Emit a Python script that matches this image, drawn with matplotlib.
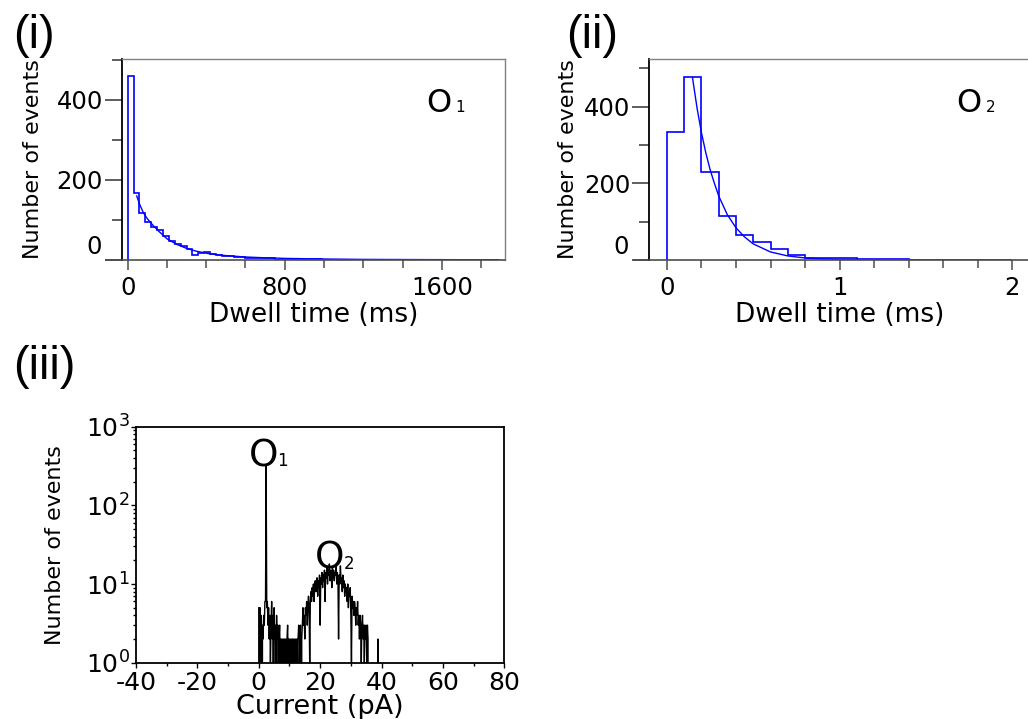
import numpy as np
import matplotlib
matplotlib.use("Agg")
import matplotlib.pyplot as plt
from matplotlib.ticker import MultipleLocator, FixedLocator, LogLocator, NullFormatter

plt.rcParams['font.family'] = ['DejaVu Sans']
plt.rcParams['axes.unicode_minus'] = False
plt.rcParams['mathtext.fontset'] = 'dejavusans'

# ---------------- data ----------------
# (i) O1 dwell-time histogram (30 ms bins)
dwell1_bin_ms = 30
dwell1_counts = [460, 167, 118, 95, 82, 74, 60, 48, 40, 34, 28, 12, 18, 20, 14, 12,
                 10, 9, 8, 7, 6, 6, 5, 5, 4,
                 1, 1, 0, 1, 1, 0, 2, 2, 0, 0, 1, 0, 0, 1, 0, 0, 1, 0, 1, 0,
                 0, 1, 0, 0, 1, 0, 0, 1, 0, 0, 0, 1, 0, 0, 1, 0, 1, 0]
fit1_x = [46, 60, 80, 100, 130, 160, 200, 250, 300, 350, 400, 450, 500, 600,
          700, 800, 1000, 1200, 1500, 1890]
fit1_y = [160, 140, 118, 103, 86, 71, 53, 39, 29, 22, 17, 13.5, 11, 7.5,
          5.5, 4, 2.5, 1.5, 1, 0.5]

# (ii) O2 dwell-time histogram (0.1 ms bins)
dwell2_bin_ms = 0.1
dwell2_counts = [333, 476, 229, 115, 64, 48, 28, 13, 6, 5, 4, 3, 2, 2, 1, 0, 0, 0, 0, 0]
fit2_x = [0.148, 0.175, 0.2, 0.225, 0.25, 0.275, 0.3, 0.35, 0.4, 0.45, 0.5,
          0.6, 0.7, 0.8, 0.9, 1.0, 1.2, 1.45]
fit2_y = [476, 395, 332, 280, 236, 200, 167, 118, 84, 60, 42,
          21, 10.6, 5.3, 2.7, 1.4, 0.4, 0.1]

# (iii) current amplitude histogram (0.2 pA bins, starting at 0 pA)
current_bin_pA = 0.2
current_counts = [
    5, 0, 5, 2, 4, 0, 3, 2, 4, 3,
    6, 6, 330, 5, 6, 3, 5, 2, 4, 1,
    3, 6, 2, 4, 0, 5, 2, 3, 1, 4,
    2, 3, 0, 2, 3, 1, 2, 0, 2, 1,
    2, 0, 2, 1, 2, 0, 2, 3, 1, 2,
    0, 2, 1, 2, 0, 2, 1, 2, 0, 2,
    1, 2, 0, 2, 2, 3, 1, 2, 3, 0,
    2, 3, 5, 3, 4, 2, 5, 4, 6, 3,
    5, 7, 5, 1, 6, 8, 6, 9, 7, 10,
    6, 9, 11, 8, 10, 12, 7, 11, 9, 13,
    3, 12, 10, 14, 9, 13, 11, 15, 6, 14,
    12, 17, 10, 15, 13, 18, 11, 15, 14, 9,
    16, 12, 15, 11, 14, 13, 18, 10, 14, 12,
    2, 13, 10, 17, 11, 12, 8, 13, 9, 11,
    7, 10, 8, 9, 6, 10, 5, 8, 7, 9,
    4, 1, 7, 5, 6, 4, 6, 5, 3, 5,
    4, 6, 3, 4, 2, 4, 3, 1, 3, 4,
    2, 3, 1, 3, 2, 3, 1, 3, 2, 0,
    0, 0, 0, 0, 0, 0, 0, 0, 0, 0,
    0, 0, 0, 0, 2, 0, 0, 0, 0, 0,
]

# ---------------- figure ----------------
W, H = 1028, 719
fig = plt.figure(figsize=(W / 100, H / 100), dpi=100)

def frac(l, t, r, b):
    return [l / W, 1 - b / H, (r - l) / W, (b - t) / H]

BLUE = '#0000ff'
TICKFS = 17.5
XLABFS = 19
YLABFS = 16

def style_dwell(ax, ext):
    for s in ('top', 'right'):
        ax.spines[s].set_color('0.5')
        ax.spines[s].set_linewidth(1.0)
    ax.spines['left'].set_color('black')
    ax.spines['left'].set_linewidth(1.3)
    ax.spines['bottom'].set_color('0.3')
    ax.spines['bottom'].set_linewidth(1.2)
    ax.plot([ext, 0], [0, 0], transform=ax.transAxes, color='0.3', lw=1.2,
            clip_on=False, solid_capstyle='butt')
    ax.tick_params(axis='y', which='major', direction='out', length=12.2, width=1.1,
                   color='0.2', labelsize=TICKFS, pad=1.5)
    ax.tick_params(axis='y', which='minor', direction='out', length=7.5, width=1.1,
                   color='0.2')
    ax.tick_params(axis='x', which='major', direction='out', length=7.2, width=1.1,
                   color='0.3', labelsize=TICKFS, pad=4)
    ax.tick_params(axis='x', which='minor', direction='out', length=5.8, width=1.1,
                   color='0.3')
    ax.yaxis.set_major_locator(FixedLocator([0, 200, 400]))
    ax.yaxis.set_minor_locator(FixedLocator([100, 300, 500]))
    ax.set_yticklabels(['', '200', '400'])
    ax.annotate('0', xy=(0, 0), xycoords=('axes fraction', 'data'),
                xytext=(-12.2 - 1.5 - 1, 9.5), textcoords='offset points',
                ha='right', va='center', fontsize=TICKFS)

# ----- (i) -----
ax1 = fig.add_axes(frac(122, 59, 505, 260))
edges1 = np.arange(len(dwell1_counts) + 1) * dwell1_bin_ms
ax1.stairs(dwell1_counts, edges1, color=BLUE, lw=1.2, baseline=0)
ax1.plot(fit1_x, fit1_y, color=BLUE, lw=1.0)
ax1.set_xlim(-29, 1922)
ax1.xaxis.set_major_locator(MultipleLocator(800))
ax1.xaxis.set_minor_locator(MultipleLocator(200))
style_dwell(ax1, -0.0444)
ax1.set_ylim(0, 502)
ax1.set_xlabel('Dwell time (ms)', fontsize=XLABFS)
ax1.xaxis.set_label_coords(0.5, -0.2736)
ax1.xaxis.label.set_verticalalignment('center')
ax1.set_ylabel('Number of events', fontsize=YLABFS)
ax1.yaxis.set_label_coords(-0.2324, 0.5)
ax1.yaxis.label.set_verticalalignment('center')
ax1.text(0.7956, 0.738, 'O', transform=ax1.transAxes, fontsize=23, ha='left', va='baseline')
ax1.text(0.8700, 0.738, '1', transform=ax1.transAxes, fontsize=11, ha='left', va='baseline')

# ----- (ii) -----
ax2 = fig.add_axes(frac(649.3, 59, 1030, 260))
edges2 = np.arange(len(dwell2_counts) + 1) * dwell2_bin_ms
ax2.stairs(dwell2_counts, edges2, color=BLUE, lw=1.2, baseline=0)
ax2.plot(fit2_x, fit2_y, color=BLUE, lw=1.0)
ax2.set_xlim(-0.102, 2.103)
ax2.xaxis.set_major_locator(MultipleLocator(1))
ax2.xaxis.set_minor_locator(MultipleLocator(0.2))
style_dwell(ax2, -0.042)
ax2.set_ylim(0, 524)
ax2.set_xlabel('Dwell time (ms)', fontsize=XLABFS)
ax2.xaxis.set_label_coords(0.5, -0.2736)
ax2.xaxis.label.set_verticalalignment('center')
ax2.set_ylabel('Number of events', fontsize=YLABFS)
ax2.yaxis.set_label_coords(-0.2136, 0.5)
ax2.yaxis.label.set_verticalalignment('center')
ax2.text(0.8074, 0.738, 'O', transform=ax2.transAxes, fontsize=23, ha='left', va='baseline')
ax2.text(0.8830, 0.738, '2', transform=ax2.transAxes, fontsize=11, ha='left', va='baseline')

# ----- (iii) -----
ax3 = fig.add_axes(frac(136, 426.7, 504.3, 662.7))
cur_x = np.arange(len(current_counts)) * current_bin_pA
ax3.plot(cur_x, current_counts, color='black', lw=1.0)
ax3.set_yscale('log', nonpositive='clip')
ax3.set_xlim(-40, 80)
ax3.set_ylim(1, 1000)
ax3.xaxis.set_major_locator(MultipleLocator(20))
ax3.xaxis.set_minor_locator(MultipleLocator(10))
ax3.yaxis.set_major_locator(LogLocator(base=10, numticks=10))
ax3.yaxis.set_minor_locator(LogLocator(base=10, subs=np.arange(2, 10), numticks=10))
ax3.yaxis.set_minor_formatter(NullFormatter())
for s in ax3.spines.values():
    s.set_color('black')
    s.set_linewidth(1.3)
ax3.tick_params(axis='y', which='major', direction='out', length=3.6, width=1.0,
                labelsize=18, pad=1)
ax3.tick_params(axis='x', which='major', direction='out', length=3.6, width=1.0,
                labelsize=18, pad=2.5)
ax3.tick_params(axis='both', which='minor', direction='out', length=2.2, width=1.0)
ax3.set_xlabel('Current (pA)', fontsize=19.5)
ax3.xaxis.set_label_coords(0.5, -0.1877)
ax3.xaxis.label.set_verticalalignment('center')
ax3.set_ylabel('Number of events', fontsize=YLABFS)
ax3.yaxis.set_label_coords(-0.2200, 0.5)
ax3.yaxis.label.set_verticalalignment('center')
ax3.text(0.3076, 0.8314, 'O', transform=ax3.transAxes, fontsize=27, ha='left', va='baseline')
ax3.text(0.384, 0.8335, '1', transform=ax3.transAxes, fontsize=12, ha='left', va='baseline')
ax3.text(0.486, 0.401, 'O', transform=ax3.transAxes, fontsize=27, ha='left', va='baseline')
ax3.text(0.5629, 0.397, '2', transform=ax3.transAxes, fontsize=12, ha='left', va='baseline')

# ----- panel labels -----
PFONT = ['Liberation Sans', 'DejaVu Sans']
fig.text(13 / W, 1 - 35.5 / H, '(i)', fontsize=34, ha='left', va='center', family=PFONT)
fig.text(566 / W, 1 - 35.5 / H, '(ii)', fontsize=34, ha='left', va='center', family=PFONT)
fig.text(13 / W, 1 - 366.5 / H, '(iii)', fontsize=34, ha='left', va='center', family=PFONT)

fig.savefig('out.png', dpi=100)
